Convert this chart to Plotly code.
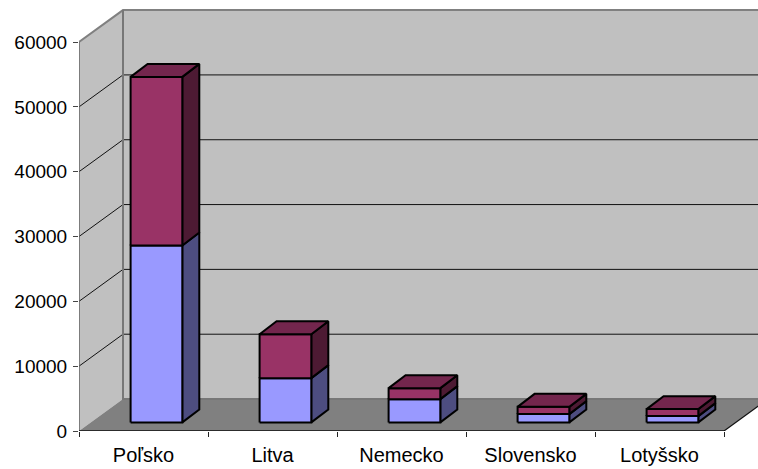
import plotly.graph_objects as go

categories = ["Poľsko", "Litva", "Nemecko", "Slovensko", "Lotyšsko"]
series_a = [27300, 6830, 3590, 1280, 970]
series_b = [26000, 6770, 1695, 1120, 1080]
y_ticks = [0, 10000, 20000, 30000, 40000, 50000, 60000]

W, H = 758, 469
L, T, B = 79, 6, 37.5
PX_X = 129.0
PX_Y = 64.9 / 10000
XMAX = (W - L) / PX_X
YMAX = (H - B - T) / PX_Y
DX, DY = 44 / PX_X, 32 / PX_Y
BAR_L, BAR_W = 51.6 / PX_X, 51.7 / PX_X
BDX, BDY = 17 / PX_X, 13 / PX_Y
BASE = 8.6 / PX_Y
N = len(categories)
TOP = y_ticks[-1]

fig = go.Figure()


def poly(xs, ys, fill=None, color="black", width=1.0, clip=True):
    fig.add_trace(go.Scatter(
        x=xs, y=ys, mode="lines", showlegend=False, hoverinfo="skip",
        fill="toself" if fill else None, fillcolor=fill,
        line=dict(color=color, width=width), cliponaxis=clip))


WALL, FLOOR, EDGE = "#C0C0C0", "#808080", "#808080"
# back wall, side wall, floor
poly([DX, N + DX, N + DX, DX, DX], [DY, DY, TOP + DY, TOP + DY, DY], WALL, WALL, 0)
poly([0, DX, DX, 0, 0], [0, DY, TOP + DY, TOP, 0], WALL, WALL, 0)
poly([0, N, N + DX, DX, 0], [0, 0, DY, DY, 0], FLOOR, FLOOR, 0)
# grid lines
for v in y_ticks[1:-1]:
    poly([0, DX, N + DX], [v, v + DY, v + DY], None, "#111111", 1)
# wall edges
poly([0, DX, N + DX], [TOP, TOP + DY, TOP + DY], None, EDGE, 2, False)
poly([DX, DX, N + DX], [TOP + DY, DY, DY], None, "#777777", 2)
poly([N, N + DX], [0, DY], None, "#111111", 1.2)
poly([0, 0], [0, TOP], None, "#666666", 1.5, False)
poly([0, N], [0, 0], None, "#111111", 1.5, False)

STYLE = [("#9999FF", "#4D4D80", "#5A5A9A"), ("#993366", "#4D1A33", "#73264D")]
for i in range(N):
    x0 = i + BAR_L
    x1 = x0 + BAR_W
    bottom = BASE
    heights = [series_a[i], series_b[i]]
    for k, val in enumerate(heights):
        top = bottom + val
        front, side, cap = STYLE[k]
        poly([x1, x1 + BDX, x1 + BDX, x1, x1],
             [bottom, bottom + BDY, top + BDY, top, bottom], side, "black", 2)
        poly([x0, x1, x1, x0, x0], [bottom, bottom, top, top, bottom], front, "black", 2)
        if k == len(heights) - 1:
            poly([x0, x1, x1 + BDX, x0 + BDX, x0],
                 [top, top, top + BDY, top + BDY, top], cap, "black", 2)
        bottom = top

font = dict(family="Liberation Sans, Arial, sans-serif", size=19, color="black")
xfont = dict(family="Liberation Sans, Arial, sans-serif", size=20, color="black")
fig.update_layout(
    width=W, height=H, autosize=False,
    margin=dict(l=L, r=0, t=T, b=B, pad=0),
    paper_bgcolor="white", plot_bgcolor="white",
    font=font,
    xaxis=dict(
        range=[0, XMAX], showgrid=False, zeroline=False, showline=False,
        tickmode="array", tickvals=[i + 0.5 for i in range(N)], ticktext=categories,
        ticks="", tickfont=xfont, ticklabelstandoff=10,
        minor=dict(tickmode="array", tickvals=list(range(N + 1)), ticks="outside",
                   ticklen=5, tickcolor="#222222", tickwidth=1, showgrid=False),
    ),
    yaxis=dict(
        range=[0, YMAX], showgrid=False, zeroline=False, showline=False,
        tickmode="array", tickvals=y_ticks, ticktext=[str(v) for v in y_ticks],
        ticks="outside", ticklen=5, tickcolor="#444444", tickwidth=1,
        tickfont=font, ticklabelstandoff=2,
    ),
)
fig.write_html("out.html", config=dict(displayModeBar=False),
               post_script="document.body.style.margin='0';")
